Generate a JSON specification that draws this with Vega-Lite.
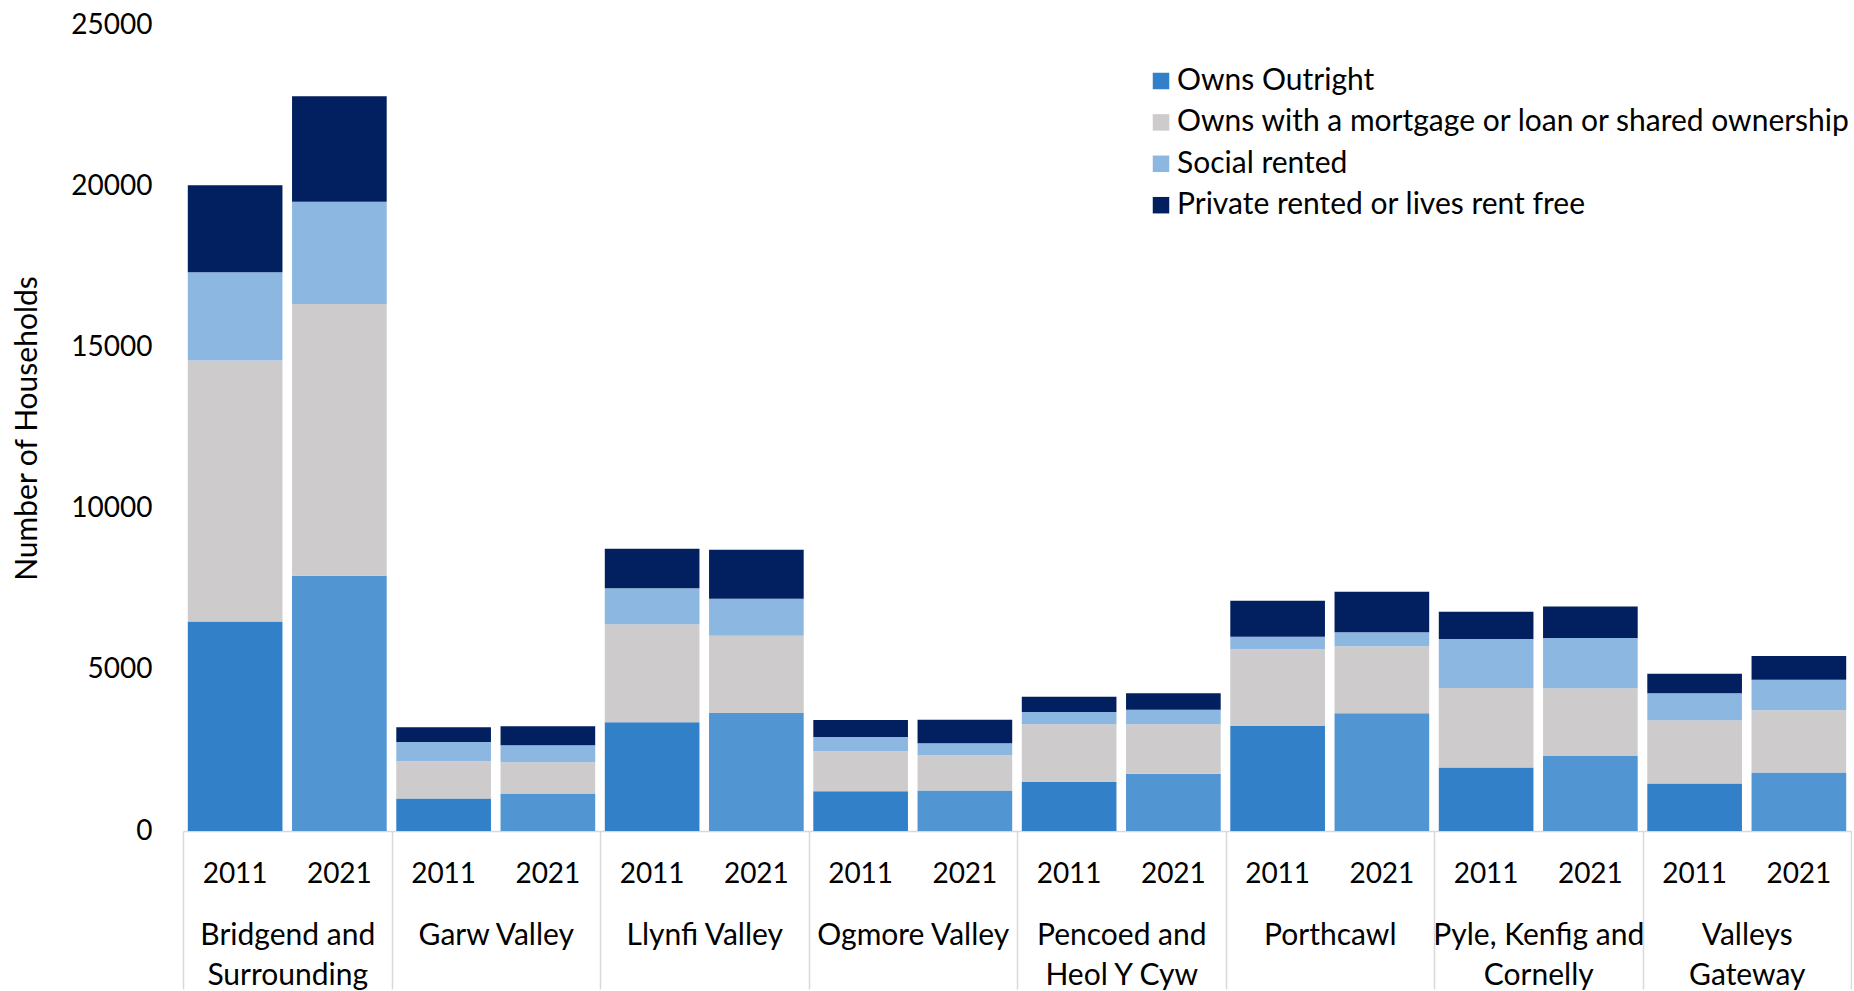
{
  "$schema": "https://vega.github.io/schema/vega-lite/v6.json",
  "width": 1668,
  "height": 806,
  "padding": {"left": 12, "top": 11, "right": 0, "bottom": 0},
  "config": {
    "view": {"stroke": null},
    "font": "Lato",
    "axis": {"labelFont": "Lato", "titleFont": "Lato", "labelColor": "#000000", "titleColor": "#000000"},
    "legend": {"labelFont": "Lato"}
  },
  "data": {"values": [
    {"area": "Bridgend and Surrounding", "year": "2011", "bar": "Bridgend and Surrounding|2011", "tenure": "Owns Outright", "rank": 1, "households": 6500},
    {"area": "Bridgend and Surrounding", "year": "2011", "bar": "Bridgend and Surrounding|2011", "tenure": "Owns with a mortgage or loan or shared ownership", "rank": 2, "households": 8090},
    {"area": "Bridgend and Surrounding", "year": "2011", "bar": "Bridgend and Surrounding|2011", "tenure": "Social rented", "rank": 3, "households": 2740},
    {"area": "Bridgend and Surrounding", "year": "2011", "bar": "Bridgend and Surrounding|2011", "tenure": "Private rented or lives rent free", "rank": 4, "households": 2700},
    {"area": "Bridgend and Surrounding", "year": "2021", "bar": "Bridgend and Surrounding|2021", "tenure": "Owns Outright", "rank": 1, "households": 7920},
    {"area": "Bridgend and Surrounding", "year": "2021", "bar": "Bridgend and Surrounding|2021", "tenure": "Owns with a mortgage or loan or shared ownership", "rank": 2, "households": 8430},
    {"area": "Bridgend and Surrounding", "year": "2021", "bar": "Bridgend and Surrounding|2021", "tenure": "Social rented", "rank": 3, "households": 3170},
    {"area": "Bridgend and Surrounding", "year": "2021", "bar": "Bridgend and Surrounding|2021", "tenure": "Private rented or lives rent free", "rank": 4, "households": 3270},
    {"area": "Garw Valley", "year": "2011", "bar": "Garw Valley|2011", "tenure": "Owns Outright", "rank": 1, "households": 1010},
    {"area": "Garw Valley", "year": "2011", "bar": "Garw Valley|2011", "tenure": "Owns with a mortgage or loan or shared ownership", "rank": 2, "households": 1150},
    {"area": "Garw Valley", "year": "2011", "bar": "Garw Valley|2011", "tenure": "Social rented", "rank": 3, "households": 600},
    {"area": "Garw Valley", "year": "2011", "bar": "Garw Valley|2011", "tenure": "Private rented or lives rent free", "rank": 4, "households": 455},
    {"area": "Garw Valley", "year": "2021", "bar": "Garw Valley|2021", "tenure": "Owns Outright", "rank": 1, "households": 1160},
    {"area": "Garw Valley", "year": "2021", "bar": "Garw Valley|2021", "tenure": "Owns with a mortgage or loan or shared ownership", "rank": 2, "households": 970},
    {"area": "Garw Valley", "year": "2021", "bar": "Garw Valley|2021", "tenure": "Social rented", "rank": 3, "households": 527},
    {"area": "Garw Valley", "year": "2021", "bar": "Garw Valley|2021", "tenure": "Private rented or lives rent free", "rank": 4, "households": 589},
    {"area": "Llynfi Valley", "year": "2011", "bar": "Llynfi Valley|2011", "tenure": "Owns Outright", "rank": 1, "households": 3370},
    {"area": "Llynfi Valley", "year": "2011", "bar": "Llynfi Valley|2011", "tenure": "Owns with a mortgage or loan or shared ownership", "rank": 2, "households": 3040},
    {"area": "Llynfi Valley", "year": "2011", "bar": "Llynfi Valley|2011", "tenure": "Social rented", "rank": 3, "households": 1117},
    {"area": "Llynfi Valley", "year": "2011", "bar": "Llynfi Valley|2011", "tenure": "Private rented or lives rent free", "rank": 4, "households": 1231},
    {"area": "Llynfi Valley", "year": "2021", "bar": "Llynfi Valley|2021", "tenure": "Owns Outright", "rank": 1, "households": 3659},
    {"area": "Llynfi Valley", "year": "2021", "bar": "Llynfi Valley|2021", "tenure": "Owns with a mortgage or loan or shared ownership", "rank": 2, "households": 2400},
    {"area": "Llynfi Valley", "year": "2021", "bar": "Llynfi Valley|2021", "tenure": "Social rented", "rank": 3, "households": 1147},
    {"area": "Llynfi Valley", "year": "2021", "bar": "Llynfi Valley|2021", "tenure": "Private rented or lives rent free", "rank": 4, "households": 1520},
    {"area": "Ogmore Valley", "year": "2011", "bar": "Ogmore Valley|2011", "tenure": "Owns Outright", "rank": 1, "households": 1231},
    {"area": "Ogmore Valley", "year": "2011", "bar": "Ogmore Valley|2011", "tenure": "Owns with a mortgage or loan or shared ownership", "rank": 2, "households": 1240},
    {"area": "Ogmore Valley", "year": "2011", "bar": "Ogmore Valley|2011", "tenure": "Social rented", "rank": 3, "households": 444},
    {"area": "Ogmore Valley", "year": "2011", "bar": "Ogmore Valley|2011", "tenure": "Private rented or lives rent free", "rank": 4, "households": 527},
    {"area": "Ogmore Valley", "year": "2021", "bar": "Ogmore Valley|2021", "tenure": "Owns Outright", "rank": 1, "households": 1253},
    {"area": "Ogmore Valley", "year": "2021", "bar": "Ogmore Valley|2021", "tenure": "Owns with a mortgage or loan or shared ownership", "rank": 2, "households": 1094},
    {"area": "Ogmore Valley", "year": "2021", "bar": "Ogmore Valley|2021", "tenure": "Social rented", "rank": 3, "households": 372},
    {"area": "Ogmore Valley", "year": "2021", "bar": "Ogmore Valley|2021", "tenure": "Private rented or lives rent free", "rank": 4, "households": 735},
    {"area": "Pencoed and Heol Y Cyw", "year": "2011", "bar": "Pencoed and Heol Y Cyw|2011", "tenure": "Owns Outright", "rank": 1, "households": 1519},
    {"area": "Pencoed and Heol Y Cyw", "year": "2011", "bar": "Pencoed and Heol Y Cyw|2011", "tenure": "Owns with a mortgage or loan or shared ownership", "rank": 2, "households": 1789},
    {"area": "Pencoed and Heol Y Cyw", "year": "2011", "bar": "Pencoed and Heol Y Cyw|2011", "tenure": "Social rented", "rank": 3, "households": 382},
    {"area": "Pencoed and Heol Y Cyw", "year": "2011", "bar": "Pencoed and Heol Y Cyw|2011", "tenure": "Private rented or lives rent free", "rank": 4, "households": 477},
    {"area": "Pencoed and Heol Y Cyw", "year": "2021", "bar": "Pencoed and Heol Y Cyw|2021", "tenure": "Owns Outright", "rank": 1, "households": 1779},
    {"area": "Pencoed and Heol Y Cyw", "year": "2021", "bar": "Pencoed and Heol Y Cyw|2021", "tenure": "Owns with a mortgage or loan or shared ownership", "rank": 2, "households": 1529},
    {"area": "Pencoed and Heol Y Cyw", "year": "2021", "bar": "Pencoed and Heol Y Cyw|2021", "tenure": "Social rented", "rank": 3, "households": 456},
    {"area": "Pencoed and Heol Y Cyw", "year": "2021", "bar": "Pencoed and Heol Y Cyw|2021", "tenure": "Private rented or lives rent free", "rank": 4, "households": 506},
    {"area": "Porthcawl", "year": "2011", "bar": "Porthcawl|2011", "tenure": "Owns Outright", "rank": 1, "households": 3256},
    {"area": "Porthcawl", "year": "2011", "bar": "Porthcawl|2011", "tenure": "Owns with a mortgage or loan or shared ownership", "rank": 2, "households": 2378},
    {"area": "Porthcawl", "year": "2011", "bar": "Porthcawl|2011", "tenure": "Social rented", "rank": 3, "households": 394},
    {"area": "Porthcawl", "year": "2011", "bar": "Porthcawl|2011", "tenure": "Private rented or lives rent free", "rank": 4, "households": 1116},
    {"area": "Porthcawl", "year": "2021", "bar": "Porthcawl|2021", "tenure": "Owns Outright", "rank": 1, "households": 3650},
    {"area": "Porthcawl", "year": "2021", "bar": "Porthcawl|2021", "tenure": "Owns with a mortgage or loan or shared ownership", "rank": 2, "households": 2077},
    {"area": "Porthcawl", "year": "2021", "bar": "Porthcawl|2021", "tenure": "Social rented", "rank": 3, "households": 434},
    {"area": "Porthcawl", "year": "2021", "bar": "Porthcawl|2021", "tenure": "Private rented or lives rent free", "rank": 4, "households": 1262},
    {"area": "Pyle, Kenfig and Cornelly", "year": "2011", "bar": "Pyle, Kenfig and Cornelly|2011", "tenure": "Owns Outright", "rank": 1, "households": 1966},
    {"area": "Pyle, Kenfig and Cornelly", "year": "2011", "bar": "Pyle, Kenfig and Cornelly|2011", "tenure": "Owns with a mortgage or loan or shared ownership", "rank": 2, "households": 2468},
    {"area": "Pyle, Kenfig and Cornelly", "year": "2011", "bar": "Pyle, Kenfig and Cornelly|2011", "tenure": "Social rented", "rank": 3, "households": 1519},
    {"area": "Pyle, Kenfig and Cornelly", "year": "2011", "bar": "Pyle, Kenfig and Cornelly|2011", "tenure": "Private rented or lives rent free", "rank": 4, "households": 850},
    {"area": "Pyle, Kenfig and Cornelly", "year": "2021", "bar": "Pyle, Kenfig and Cornelly|2021", "tenure": "Owns Outright", "rank": 1, "households": 2326},
    {"area": "Pyle, Kenfig and Cornelly", "year": "2021", "bar": "Pyle, Kenfig and Cornelly|2021", "tenure": "Owns with a mortgage or loan or shared ownership", "rank": 2, "households": 2099},
    {"area": "Pyle, Kenfig and Cornelly", "year": "2021", "bar": "Pyle, Kenfig and Cornelly|2021", "tenure": "Social rented", "rank": 3, "households": 1559},
    {"area": "Pyle, Kenfig and Cornelly", "year": "2021", "bar": "Pyle, Kenfig and Cornelly|2021", "tenure": "Private rented or lives rent free", "rank": 4, "households": 983},
    {"area": "Valleys Gateway", "year": "2011", "bar": "Valleys Gateway|2011", "tenure": "Owns Outright", "rank": 1, "households": 1470},
    {"area": "Valleys Gateway", "year": "2011", "bar": "Valleys Gateway|2011", "tenure": "Owns with a mortgage or loan or shared ownership", "rank": 2, "households": 1963},
    {"area": "Valleys Gateway", "year": "2011", "bar": "Valleys Gateway|2011", "tenure": "Social rented", "rank": 3, "households": 837},
    {"area": "Valleys Gateway", "year": "2011", "bar": "Valleys Gateway|2011", "tenure": "Private rented or lives rent free", "rank": 4, "households": 611},
    {"area": "Valleys Gateway", "year": "2021", "bar": "Valleys Gateway|2021", "tenure": "Owns Outright", "rank": 1, "households": 1811},
    {"area": "Valleys Gateway", "year": "2021", "bar": "Valleys Gateway|2021", "tenure": "Owns with a mortgage or loan or shared ownership", "rank": 2, "households": 1932},
    {"area": "Valleys Gateway", "year": "2021", "bar": "Valleys Gateway|2021", "tenure": "Social rented", "rank": 3, "households": 952},
    {"area": "Valleys Gateway", "year": "2021", "bar": "Valleys Gateway|2021", "tenure": "Private rented or lives rent free", "rank": 4, "households": 731}
  ]},
  "layer": [
    {
      "mark": {"type": "bar"},
      "encoding": {
        "x": {
          "field": "bar", "type": "nominal", "sort": null,
          "scale": {"paddingInner": 0.092, "paddingOuter": 0.046},
          "axis": {
            "orient": "bottom", "title": null, "domain": false, "ticks": false, "tickSize": 0,
            "labelAngle": 0, "labelFontSize": 28, "labelPadding": 29.5, "labelBaseline": "top",
            "labelExpr": "split(datum.value, '|')[1]", "labelOverlap": false
          }
        },
        "y": {
          "field": "households", "type": "quantitative", "stack": "zero",
          "scale": {"domain": [0, 25000], "nice": false},
          "axis": {
            "title": "Number of Households", "titleFontSize": 30, "titleFontWeight": "normal", "titlePadding": 28,
            "values": [0, 5000, 10000, 15000, 20000, 25000], "format": "d",
            "domain": false, "ticks": false, "grid": false,
            "labelFontSize": 28, "labelPadding": 31
          }
        },
        "color": {
          "field": "tenure", "type": "nominal",
          "condition": {"test": "datum.tenure === 'Owns Outright' && datum.year === '2021'", "value": "#5195D2"},
          "scale": {
            "domain": ["Owns Outright", "Owns with a mortgage or loan or shared ownership", "Social rented", "Private rented or lives rent free"],
            "range": ["#3180C8", "#CDCBCC", "#8BB7E0", "#02205F"]
          },
          "legend": {
            "title": null, "orient": "none", "legendX": 963, "legendY": 41,
            "symbolType": "square", "symbolSize": 272, "symbolStrokeWidth": 0,
            "labelFontSize": 30, "labelColor": "#000000", "labelOffset": 1, "rowPadding": 11.4,
            "padding": 0, "labelLimit": 900
          }
        },
        "order": {"field": "rank", "type": "quantitative", "sort": "ascending"}
      }
    },
    {
      "mark": {"type": "point", "opacity": 0},
      "encoding": {
        "x": {
          "field": "area", "type": "nominal", "sort": null,
          "scale": {"paddingInner": 0, "paddingOuter": 0},
          "axis": {
            "orient": "bottom", "title": null,
            "domain": true, "domainColor": "#D9D9D9", "domainWidth": 1.5,
            "ticks": true, "tickBand": "extent", "tickSize": 158, "tickColor": "#D9D9D9", "tickWidth": 1.5,
            "labelAngle": 0, "labelFontSize": 30, "labelPadding": -69, "labelBaseline": "top",
            "labelLineHeight": 40, "labelOverlap": false, "labelLimit": 300,
            "labelExpr": "datum.value == 'Bridgend and Surrounding' ? ['Bridgend and', 'Surrounding'] : datum.value == 'Pencoed and Heol Y Cyw' ? ['Pencoed and', 'Heol Y Cyw'] : datum.value == 'Pyle, Kenfig and Cornelly' ? ['Pyle, Kenfig and', 'Cornelly'] : datum.value == 'Valleys Gateway' ? ['Valleys', 'Gateway'] : datum.label"
          }
        }
      }
    }
  ],
  "resolve": {"scale": {"x": "independent"}, "axis": {"x": "independent"}}
}
